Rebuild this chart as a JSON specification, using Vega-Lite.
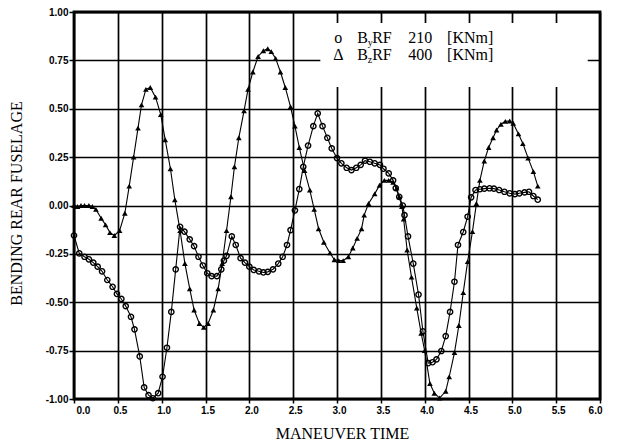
{
  "$schema": "https://vega.github.io/schema/vega-lite/v6.json",
  "width": 526,
  "height": 387,
  "autosize": "none",
  "padding": {"left": 74, "top": 12, "right": 24, "bottom": 46},
  "background": "white",
  "config": {
    "view": {"stroke": "black", "strokeWidth": 2.8},
    "axis": {
      "domain": false,
      "grid": true,
      "gridColor": "black",
      "gridWidth": 1.7,
      "gridOpacity": 1,
      "tickColor": "black",
      "tickWidth": 1.5,
      "labelColor": "black",
      "labelFont": "Liberation Sans",
      "labelFontWeight": "bold",
      "labelFontSize": 10,
      "titleFont": "Liberation Serif",
      "titleFontSize": 16,
      "titleFontWeight": "normal",
      "titleColor": "black"
    }
  },
  "datasets": {
    "byrf": [
      {"t":0.00,"v":-0.155},{"t":0.06,"v":-0.247},{"t":0.12,"v":-0.265},{"t":0.17,"v":-0.278},{"t":0.22,"v":-0.295},
      {"t":0.27,"v":-0.316},{"t":0.32,"v":-0.34},{"t":0.38,"v":-0.385},{"t":0.44,"v":-0.42},{"t":0.49,"v":-0.457},
      {"t":0.54,"v":-0.483},{"t":0.59,"v":-0.52},{"t":0.65,"v":-0.575},{"t":0.69,"v":-0.64},{"t":0.75,"v":-0.78},
      {"t":0.80,"v":-0.94},{"t":0.85,"v":-0.98},{"t":0.90,"v":-0.996},{"t":0.96,"v":-0.97},{"t":1.01,"v":-0.885},
      {"t":1.06,"v":-0.735},{"t":1.11,"v":-0.55},{"t":1.16,"v":-0.33},{"t":1.21,"v":-0.11},{"t":1.26,"v":-0.135},
      {"t":1.32,"v":-0.175},{"t":1.37,"v":-0.21},{"t":1.42,"v":-0.265},{"t":1.47,"v":-0.31},{"t":1.52,"v":-0.35},
      {"t":1.57,"v":-0.365},{"t":1.63,"v":-0.365},{"t":1.68,"v":-0.33},{"t":1.71,"v":-0.285},{"t":1.74,"v":-0.26},
      {"t":1.80,"v":-0.16},{"t":1.845,"v":-0.204},{"t":1.90,"v":-0.272},{"t":1.95,"v":-0.295},{"t":2.00,"v":-0.316},
      {"t":2.05,"v":-0.333},{"t":2.11,"v":-0.34},{"t":2.16,"v":-0.346},{"t":2.21,"v":-0.343},{"t":2.27,"v":-0.33},
      {"t":2.33,"v":-0.30},{"t":2.38,"v":-0.265},{"t":2.43,"v":-0.204},{"t":2.47,"v":-0.127},{"t":2.52,"v":-0.025},
      {"t":2.57,"v":0.085},{"t":2.615,"v":0.20},{"t":2.67,"v":0.31},{"t":2.73,"v":0.41},{"t":2.78,"v":0.476},
      {"t":2.835,"v":0.41},{"t":2.89,"v":0.35},{"t":2.94,"v":0.295},{"t":3.00,"v":0.245},{"t":3.05,"v":0.218},
      {"t":3.11,"v":0.195},{"t":3.165,"v":0.183},{"t":3.22,"v":0.195},{"t":3.27,"v":0.21},{"t":3.32,"v":0.232},
      {"t":3.375,"v":0.226},{"t":3.43,"v":0.218},{"t":3.49,"v":0.21},{"t":3.53,"v":0.19},{"t":3.59,"v":0.166},
      {"t":3.64,"v":0.13},{"t":3.67,"v":0.09},{"t":3.71,"v":0.045},{"t":3.75,"v":0.0},{"t":3.77,"v":-0.05},
      {"t":3.81,"v":-0.16},{"t":3.87,"v":-0.30},{"t":3.93,"v":-0.46},{"t":3.98,"v":-0.65},{"t":4.04,"v":-0.815},
      {"t":4.09,"v":-0.81},{"t":4.135,"v":-0.795},{"t":4.19,"v":-0.752},{"t":4.24,"v":-0.675},{"t":4.29,"v":-0.55},
      {"t":4.34,"v":-0.394},{"t":4.38,"v":-0.204},{"t":4.44,"v":-0.137},{"t":4.49,"v":-0.058},{"t":4.53,"v":0.042},
      {"t":4.58,"v":0.08},{"t":4.63,"v":0.084},{"t":4.68,"v":0.087},{"t":4.74,"v":0.089},{"t":4.79,"v":0.087},
      {"t":4.85,"v":0.08},{"t":4.91,"v":0.071},{"t":4.97,"v":0.063},{"t":5.03,"v":0.059},{"t":5.08,"v":0.063},
      {"t":5.14,"v":0.068},{"t":5.19,"v":0.071},{"t":5.24,"v":0.049},{"t":5.29,"v":0.03}
    ],
    "bzrf": [
      {"t":0.00,"v":0.0},{"t":0.04,"v":-0.005},{"t":0.08,"v":0.0},{"t":0.12,"v":0.0},{"t":0.17,"v":0.0},
      {"t":0.21,"v":-0.005},{"t":0.25,"v":-0.02},{"t":0.31,"v":-0.066},{"t":0.36,"v":-0.10},{"t":0.41,"v":-0.14},
      {"t":0.46,"v":-0.155},{"t":0.52,"v":-0.13},{"t":0.58,"v":-0.04},{"t":0.63,"v":0.10},{"t":0.68,"v":0.25},
      {"t":0.73,"v":0.40},{"t":0.77,"v":0.52},{"t":0.82,"v":0.60},{"t":0.87,"v":0.61},{"t":0.93,"v":0.56},
      {"t":0.99,"v":0.47},{"t":1.04,"v":0.34},{"t":1.10,"v":0.19},{"t":1.15,"v":0.03},{"t":1.21,"v":-0.13},
      {"t":1.265,"v":-0.30},{"t":1.32,"v":-0.43},{"t":1.37,"v":-0.54},{"t":1.43,"v":-0.61},{"t":1.48,"v":-0.63},
      {"t":1.53,"v":-0.61},{"t":1.59,"v":-0.54},{"t":1.645,"v":-0.43},{"t":1.69,"v":-0.30},{"t":1.74,"v":-0.13},
      {"t":1.79,"v":0.045},{"t":1.83,"v":0.20},{"t":1.88,"v":0.35},{"t":1.94,"v":0.49},{"t":1.985,"v":0.60},
      {"t":2.04,"v":0.69},{"t":2.10,"v":0.77},{"t":2.16,"v":0.80},{"t":2.21,"v":0.81},{"t":2.25,"v":0.795},
      {"t":2.30,"v":0.76},{"t":2.355,"v":0.69},{"t":2.41,"v":0.61},{"t":2.47,"v":0.51},{"t":2.52,"v":0.41},
      {"t":2.57,"v":0.30},{"t":2.63,"v":0.18},{"t":2.69,"v":0.08},{"t":2.74,"v":-0.02},{"t":2.79,"v":-0.12},
      {"t":2.85,"v":-0.19},{"t":2.92,"v":-0.245},{"t":2.97,"v":-0.28},{"t":3.02,"v":-0.285},{"t":3.07,"v":-0.285},
      {"t":3.13,"v":-0.265},{"t":3.18,"v":-0.22},{"t":3.23,"v":-0.17},{"t":3.28,"v":-0.12},{"t":3.31,"v":-0.05},
      {"t":3.36,"v":0.01},{"t":3.43,"v":0.06},{"t":3.485,"v":0.105},{"t":3.54,"v":0.13},{"t":3.59,"v":0.13},
      {"t":3.64,"v":0.12},{"t":3.68,"v":0.09},{"t":3.71,"v":0.045},{"t":3.74,"v":-0.005},{"t":3.76,"v":-0.07},
      {"t":3.80,"v":-0.23},{"t":3.85,"v":-0.37},{"t":3.91,"v":-0.53},{"t":3.96,"v":-0.66},{"t":4.00,"v":-0.75},
      {"t":4.06,"v":-0.92},{"t":4.11,"v":-0.97},{"t":4.17,"v":-0.995},{"t":4.24,"v":-0.96},{"t":4.28,"v":-0.885},
      {"t":4.34,"v":-0.76},{"t":4.39,"v":-0.62},{"t":4.44,"v":-0.45},{"t":4.49,"v":-0.29},{"t":4.545,"v":-0.135},
      {"t":4.59,"v":0.01},{"t":4.63,"v":0.13},{"t":4.68,"v":0.23},{"t":4.73,"v":0.30},{"t":4.78,"v":0.35},
      {"t":4.82,"v":0.39},{"t":4.87,"v":0.42},{"t":4.92,"v":0.435},{"t":4.97,"v":0.437},{"t":5.01,"v":0.425},
      {"t":5.07,"v":0.37},{"t":5.12,"v":0.32},{"t":5.18,"v":0.245},{"t":5.24,"v":0.175},{"t":5.29,"v":0.10}
    ]
  },
  "layer": [
    {
      "data": {"name": "byrf"},
      "mark": {"type": "line", "color": "black", "strokeWidth": 1.1},
      "encoding": {
        "x": {"field": "t", "type": "quantitative",
              "scale": {"domain": [0, 6], "nice": false, "zero": false},
              "axis": {"values": [0,0.5,1,1.5,2,2.5,3,3.5,4,4.5,5,5.5,6],
                       "labelExpr": "format(datum.value, '.1f')",
                       "title": "MANEUVER TIME", "tickSize": 4, "labelPadding": 2, "labelOffset": 2,
                       "titleBaseline": "middle", "titleY": 34, "titleX": 268, "titleAnchor": "middle"}},
        "y": {"field": "v", "type": "quantitative",
              "scale": {"domain": [-1, 1], "nice": false, "zero": false},
              "axis": {"values": [-1,-0.75,-0.5,-0.25,0,0.25,0.5,0.75,1],
                       "labelExpr": "(datum.value < 0 ? '-' : '') + format(abs(datum.value), '.2f')",
                       "title": "BENDING REAR FUSELAGE", "tickSize": 5, "labelPadding": 1,
                       "titleAngle": -90, "titleBaseline": "middle", "titleAlign": "center",
                       "titleX": -58, "titleY": 191}},
        "order": {"field": "t", "type": "quantitative"}
      }
    },
    {
      "data": {"name": "byrf"},
      "mark": {"type": "point", "shape": "circle", "filled": false, "stroke": "black", "strokeWidth": 1.4, "size": 28, "opacity": 1},
      "encoding": {
        "x": {"field": "t", "type": "quantitative"},
        "y": {"field": "v", "type": "quantitative"}
      }
    },
    {
      "data": {"name": "bzrf"},
      "mark": {"type": "line", "color": "black", "strokeWidth": 1.1},
      "encoding": {
        "x": {"field": "t", "type": "quantitative"},
        "y": {"field": "v", "type": "quantitative"},
        "order": {"field": "t", "type": "quantitative"}
      }
    },
    {
      "data": {"name": "bzrf"},
      "mark": {"type": "point", "shape": "triangle-up", "filled": true, "color": "black", "size": 32, "opacity": 1},
      "encoding": {
        "x": {"field": "t", "type": "quantitative"},
        "y": {"field": "v", "type": "quantitative"}
      }
    },
    {
      "data": {"values": [{}]},
      "mark": {"type": "rect", "fill": "white"},
      "encoding": {
        "x": {"datum": 2.81, "type": "quantitative"},
        "x2": {"datum": 5.86},
        "y": {"datum": 0.943, "type": "quantitative"},
        "y2": {"datum": 0.612}
      }
    },
    {
      "data": {"values": [{}]},
      "mark": {"type": "text", "text": "o", "font": "Liberation Serif", "fontSize": 16, "align": "left", "baseline": "alphabetic", "color": "black"},
      "encoding": {"x": {"datum": 2.968, "type": "quantitative"}, "y": {"datum": 0.841, "type": "quantitative"}}
    },
    {
      "data": {"values": [{}]},
      "mark": {"type": "text", "text": "B", "font": "Liberation Serif", "fontSize": 16, "align": "left", "baseline": "alphabetic", "color": "black"},
      "encoding": {"x": {"datum": 3.23, "type": "quantitative"}, "y": {"datum": 0.841, "type": "quantitative"}}
    },
    {
      "data": {"values": [{}]},
      "mark": {"type": "text", "text": "y", "font": "Liberation Serif", "fontSize": 10, "align": "left", "baseline": "alphabetic", "dx": 10.5, "dy": 3, "color": "black"},
      "encoding": {"x": {"datum": 3.23, "type": "quantitative"}, "y": {"datum": 0.841, "type": "quantitative"}}
    },
    {
      "data": {"values": [{}]},
      "mark": {"type": "text", "text": "RF", "font": "Liberation Serif", "fontSize": 16, "align": "left", "baseline": "alphabetic", "dx": 15, "color": "black"},
      "encoding": {"x": {"datum": 3.23, "type": "quantitative"}, "y": {"datum": 0.841, "type": "quantitative"}}
    },
    {
      "data": {"values": [{}]},
      "mark": {"type": "text", "text": "210", "font": "Liberation Serif", "fontSize": 16, "align": "left", "baseline": "alphabetic", "color": "black"},
      "encoding": {"x": {"datum": 3.812, "type": "quantitative"}, "y": {"datum": 0.841, "type": "quantitative"}}
    },
    {
      "data": {"values": [{}]},
      "mark": {"type": "text", "text": "[KNm]", "font": "Liberation Serif", "fontSize": 16, "align": "left", "baseline": "alphabetic", "color": "black"},
      "encoding": {"x": {"datum": 4.256, "type": "quantitative"}, "y": {"datum": 0.841, "type": "quantitative"}}
    },
    {
      "data": {"values": [{}]},
      "mark": {"type": "text", "text": "Δ", "font": "Liberation Serif", "fontSize": 16, "align": "left", "baseline": "alphabetic", "color": "black"},
      "encoding": {"x": {"datum": 2.957, "type": "quantitative"}, "y": {"datum": 0.752, "type": "quantitative"}}
    },
    {
      "data": {"values": [{}]},
      "mark": {"type": "text", "text": "B", "font": "Liberation Serif", "fontSize": 16, "align": "left", "baseline": "alphabetic", "color": "black"},
      "encoding": {"x": {"datum": 3.23, "type": "quantitative"}, "y": {"datum": 0.752, "type": "quantitative"}}
    },
    {
      "data": {"values": [{}]},
      "mark": {"type": "text", "text": "z", "font": "Liberation Serif", "fontSize": 10, "align": "left", "baseline": "alphabetic", "dx": 10.5, "dy": 3, "color": "black"},
      "encoding": {"x": {"datum": 3.23, "type": "quantitative"}, "y": {"datum": 0.752, "type": "quantitative"}}
    },
    {
      "data": {"values": [{}]},
      "mark": {"type": "text", "text": "RF", "font": "Liberation Serif", "fontSize": 16, "align": "left", "baseline": "alphabetic", "dx": 15, "color": "black"},
      "encoding": {"x": {"datum": 3.23, "type": "quantitative"}, "y": {"datum": 0.752, "type": "quantitative"}}
    },
    {
      "data": {"values": [{}]},
      "mark": {"type": "text", "text": "400", "font": "Liberation Serif", "fontSize": 16, "align": "left", "baseline": "alphabetic", "color": "black"},
      "encoding": {"x": {"datum": 3.812, "type": "quantitative"}, "y": {"datum": 0.752, "type": "quantitative"}}
    },
    {
      "data": {"values": [{}]},
      "mark": {"type": "text", "text": "[KNm]", "font": "Liberation Serif", "fontSize": 16, "align": "left", "baseline": "alphabetic", "color": "black"},
      "encoding": {"x": {"datum": 4.256, "type": "quantitative"}, "y": {"datum": 0.752, "type": "quantitative"}}
    }
  ]
}
